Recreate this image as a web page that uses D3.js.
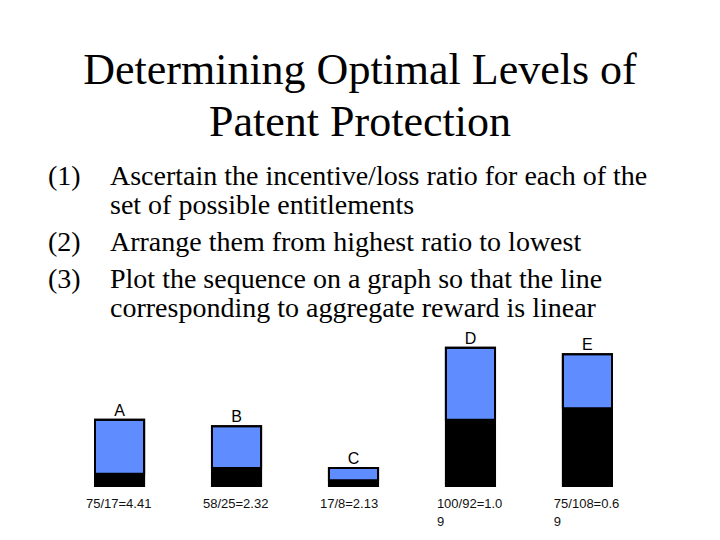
<!DOCTYPE html>
<html>
<head>
<meta charset="utf-8">
<script src="https://cdn.jsdelivr.net/npm/d3@7"></script>
<style>
  body { margin: 0; background: #fff; }
  svg { display: block; }
</style>
</head>
<body>
<div id="chart"></div>
<script>
// data
var categories = ["A", "B", "C", "D", "E"];
var incentive = [75, 58, 17, 100, 75];
var loss = [17, 25, 8, 92, 108];
var ratioLines = [
  ["75/17=4.41"],
  ["58/25=2.32"],
  ["17/8=2.13"],
  ["100/92=1.0", "9"],
  ["75/108=0.6", "9"]
];
var titleLines = ["Determining Optimal Levels of", "Patent Protection"];
var steps = [
  ["(1)", ["Ascertain the incentive/loss ratio for each of the", "set of possible entitlements"]],
  ["(2)", ["Arrange them from highest ratio to lowest"]],
  ["(3)", ["Plot the sequence on a graph so that the line", "corresponding to aggregate reward is linear"]]
];

var width = 720;
var height = 540;
var blue = "#5f8cff";
var serif = "'Liberation Serif', 'Times New Roman', serif";
var sans = "'Liberation Sans', Arial, sans-serif";

var svg = d3.select("#chart")
  .append("svg")
  .attr("width", width)
  .attr("height", height);

// title
svg.append("g")
  .selectAll("text")
  .data(titleLines)
  .enter()
  .append("text")
  .attr("x", 360)
  .attr("y", (d, i) => 84 + i * 52)
  .attr("text-anchor", "middle")
  .attr("font-family", serif)
  .attr("font-size", 44)
  .text(d => d);

// numbered list
var lineY = 185;
steps.forEach(function(s, k) {
  if (k > 0) lineY += 37;
  svg.append("text")
    .attr("x", 48)
    .attr("y", lineY)
    .attr("font-family", serif)
    .attr("font-size", 28)
    .text(s[0]);
  s[1].forEach(function(t, j) {
    if (j > 0) lineY += 29;
    svg.append("text")
      .attr("x", 110)
      .attr("y", lineY)
      .attr("font-family", serif)
      .attr("font-size", 28)
      .text(t);
  });
});

// scales
var x = d3.scaleBand()
  .domain(categories)
  .range([95, 612])
  .paddingInner(0.58)
  .paddingOuter(0);

var y = d3.scaleLinear()
  .domain([0, 200])
  .range([486, 342]);

var rows = categories.map((c, i) => ({
  cat: c,
  incentive: incentive[i],
  loss: loss[i],
  label: ratioLines[i]
}));

var bars = svg.append("g")
  .selectAll("g")
  .data(rows)
  .enter()
  .append("g");

// loss part (black, bottom)
bars.append("rect")
  .attr("x", d => x(d.cat))
  .attr("y", d => y(d.loss))
  .attr("width", x.bandwidth())
  .attr("height", d => y(0) - y(d.loss))
  .attr("fill", "#000");

// incentive part (blue, on top)
bars.append("rect")
  .attr("x", d => x(d.cat))
  .attr("y", d => y(d.loss + d.incentive))
  .attr("width", x.bandwidth())
  .attr("height", d => y(d.loss) - y(d.loss + d.incentive))
  .attr("fill", blue)
  .attr("stroke", "#000")
  .attr("stroke-width", 2);

// outline round whole bar
bars.append("rect")
  .attr("x", d => x(d.cat))
  .attr("y", d => y(d.loss + d.incentive))
  .attr("width", x.bandwidth())
  .attr("height", d => y(0) - y(d.loss + d.incentive))
  .attr("fill", "none")
  .attr("stroke", "#000")
  .attr("stroke-width", 2);

// letters
bars.append("text")
  .attr("x", d => x(d.cat) + x.bandwidth() / 2)
  .attr("y", d => y(d.loss + d.incentive) - 4)
  .attr("text-anchor", "middle")
  .attr("font-family", sans)
  .attr("font-size", 16)
  .text(d => d.cat);

// ratio labels
bars.append("text")
  .attr("font-family", sans)
  .attr("font-size", 13)
  .attr("fill", "#111")
  .selectAll("tspan")
  .data(d => d.label.map(t => ({ t: t, cat: d.cat })))
  .enter()
  .append("tspan")
  .attr("x", d => x(d.cat) - 9)
  .attr("y", (d, i) => 508 + i * 18)
  .text(d => d.t);
</script>
</body>
</html>
